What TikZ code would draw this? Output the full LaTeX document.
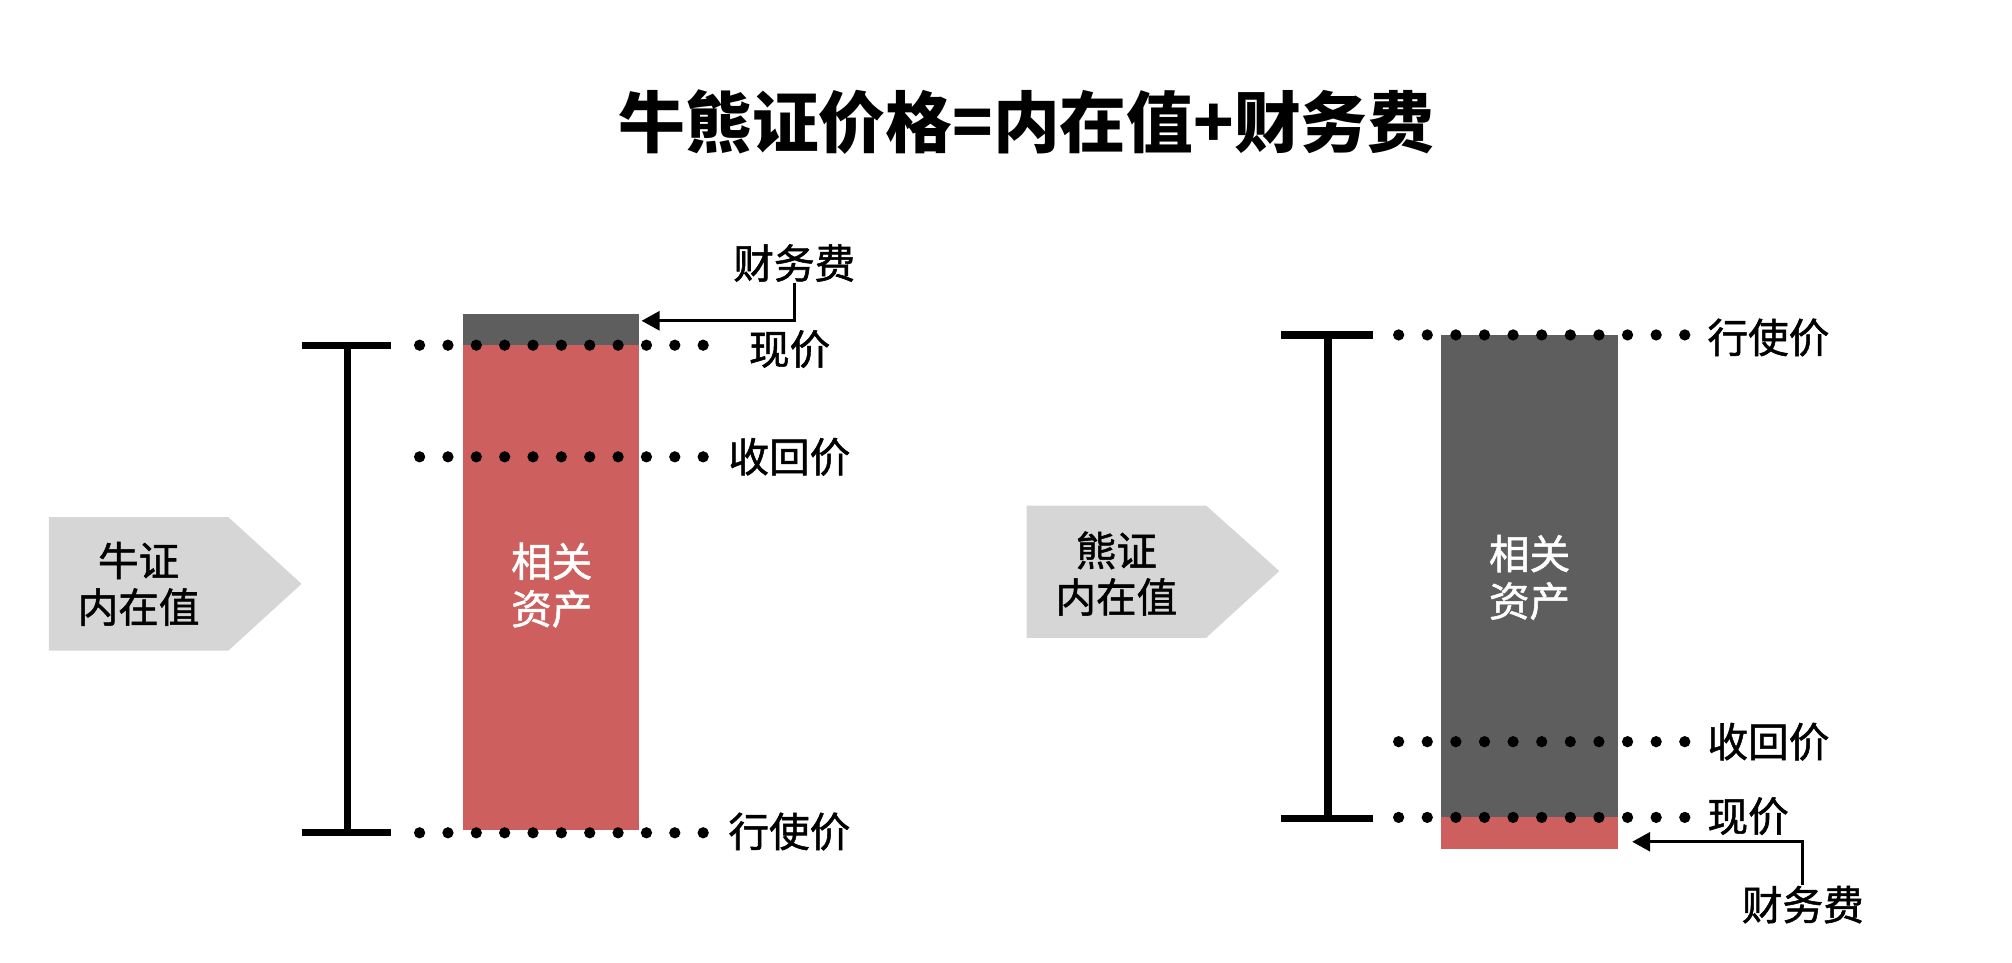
\documentclass[tikz,border=0pt]{standalone}
\usepackage{fontspec}
\newfontfamily\cjk{Noto Sans CJK SC}
\newfontfamily\cjkm{Noto Sans CJK SC}[FakeBold=1.3]
\usetikzlibrary{arrows.meta}
\definecolor{assetred}{RGB}{205,96,94}
\definecolor{feegray}{RGB}{94,94,94}
\definecolor{taggray}{RGB}{214,214,214}
\tikzset{
	pricelabel/.style={font=\cjkm\fontsize{9pt}{10.5pt}\selectfont, inner sep=0pt, anchor=west},
	boxtext/.style={font=\cjkm\fontsize{9pt}{10.5pt}\selectfont, text=white, align=center, inner sep=0pt},
	tagtext/.style={font=\cjkm\fontsize{9pt}{10.3pt}\selectfont, align=center, inner sep=0pt},
	bracket/.style={line width=1.6pt},
	feearrow/.style={line width=0.7pt, -{Triangle[length=4pt, width=4.2pt]}},
}
\begin{document}
\begin{tikzpicture}[x=0.01cm, y=-0.01cm]
	\useasboundingbox (0,0) rectangle (1568,750);
	\node[font=\cjk\bfseries\fontsize{14.8pt}{18pt}\selectfont] (title) at (800,95) {牛熊证价格=内在值+财务费};

	% bull
	\fill[taggray] (38,403) -- (178,403) -- (235,455) -- (178,507) -- (38,507) -- cycle;
	\node[tagtext] (tagL) at (108,455) {牛证\\内在值};
	\fill[feegray] (361,245) rectangle (498,269);
	\fill[assetred] (361,269) rectangle (498,647);
	\node[boxtext] (assetL) at (430,456) {相关\\资产};
	\draw[bracket] (235,269) -- (305,269) (271,269) -- (271,649) (235,649) -- (305,649);
	\foreach \y in {269,356,649} {
		\foreach \i in {0,...,10} { \fill (327+22.1*\i,\y) circle (1.25pt); }
	}
	\node[pricelabel] (spotL) at (583,272) {现价};
	\node[pricelabel] (callL) at (567,356) {收回价};
	\node[pricelabel] (strikeL) at (567,648) {行使价};
	\node[pricelabel, anchor=center] (feeL) at (619,205) {财务费};
	\coordinate (feeTipL) at (500,250);
	\draw[feearrow] (feeL.south) |- (feeTipL);

	% bear
	\fill[taggray] (800,394) -- (940,394) -- (997,445) -- (940,497) -- (800,497) -- cycle;
	\node[tagtext] (tagR) at (870,447) {熊证\\内在值};
	\fill[feegray] (1123,261) rectangle (1261,637);
	\fill[assetred] (1123,637) rectangle (1261,662);
	\node[boxtext] (assetR) at (1192,450) {相关\\资产};
	\draw[bracket] (998,261) -- (1070,261) (1035,261) -- (1035,638) (998,638) -- (1070,638);
	\foreach \y in {261,578,637} {
		\foreach \i in {0,...,10} { \fill (1090+22.3*\i,\y) circle (1.25pt); }
	}
	\node[pricelabel] (strikeR) at (1330,263) {行使价};
	\node[pricelabel] (callR) at (1330,578) {收回价};
	\node[pricelabel] (spotR) at (1330,636) {现价};
	\node[pricelabel, anchor=center] (feeR) at (1405,705) {财务费};
	\coordinate (feeTipR) at (1272,656);
	\draw[feearrow] (feeR.north) |- (feeTipR);
\end{tikzpicture}
\end{document}
